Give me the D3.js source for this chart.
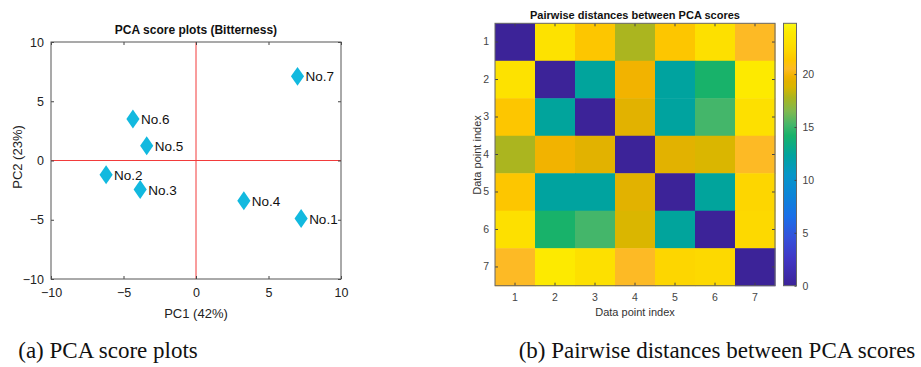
<!DOCTYPE html>
<html>
<head>
<meta charset="utf-8">
<script src="https://cdn.jsdelivr.net/npm/d3@7"></script>
<style>
  body { margin: 0; background: #fff; }
  svg { display: block; font-family: Arial, "Liberation Sans", sans-serif; }
</style>
</head>
<body>
<svg id="fig" width="921" height="367"></svg>
<script>
// ---- data (a) PCA scores ----
const sampleNames = ["No.1", "No.2", "No.3", "No.4", "No.5", "No.6", "No.7"];
const pc1Scores = [7.25, -6.2, -3.85, 3.3, -3.4, -4.35, 7.0];
const pc2Scores = [-4.9, -1.2, -2.45, -3.4, 1.25, 3.5, 7.1];
const scoreTicks = [-10, -5, 0, 5, 10];

// ---- data (b) pairwise distances ----
const pointIndex = [1, 2, 3, 4, 5, 6, 7];
const distRow1 = [0, 23.2, 21.3, 17.8, 21.3, 23.0, 20.5];
const distRow2 = [23.2, 0, 12.4, 19.8, 12.3, 14.2, 24.0];
const distRow3 = [21.3, 12.4, 0, 19.3, 12.3, 15.2, 23.0];
const distRow4 = [17.8, 19.8, 19.3, 0, 19.3, 18.8, 20.5];
const distRow5 = [21.3, 12.3, 12.3, 19.3, 0, 12.4, 22.2];
const distRow6 = [23.0, 14.2, 15.2, 18.8, 12.4, 0, 22.4];
const distRow7 = [20.5, 24.0, 23.0, 20.5, 22.2, 22.4, 0];
const distances = [distRow1, distRow2, distRow3, distRow4, distRow5, distRow6, distRow7];
const colorbarTicks = [0, 5, 10, 15, 20];

const svg = d3.select("#fig");

// ================= (a) score plot =================
let xScale = d3.scaleLinear().domain([-10, 10]).range([51, 341]);
let yScale = d3.scaleLinear().domain([-10, 10]).range([279, 42]);

const left = svg.append("g");

// zero lines
left.append("line")
  .attr("x1", xScale(0)).attr("x2", xScale(0))
  .attr("y1", yScale(10)).attr("y2", yScale(-10))
  .attr("stroke", "#f23b3b").attr("stroke-width", 1);
left.append("line")
  .attr("x1", xScale(-10)).attr("x2", xScale(10))
  .attr("y1", yScale(0)).attr("y2", yScale(0))
  .attr("stroke", "#f23b3b").attr("stroke-width", 1);

function styleAxis(g, size, color) {
  g.select(".domain").remove();
  g.selectAll("line").attr("stroke", "#444");
  g.selectAll("text").style("font-size", size + "px").attr("fill", color);
}

left.append("g")
  .attr("transform", "translate(0," + yScale(-10) + ")")
  .call(d3.axisBottom(xScale).tickValues(scoreTicks).tickSize(-3).tickPadding(9).tickSizeOuter(0))
  .call(g => styleAxis(g, 12.5, "#222"));
left.append("g")
  .attr("transform", "translate(0," + yScale(10) + ")")
  .call(d3.axisTop(xScale).tickValues(scoreTicks).tickSize(-3).tickFormat("").tickSizeOuter(0))
  .call(g => styleAxis(g, 12.5, "#222"));
left.append("g")
  .attr("transform", "translate(" + xScale(-10) + ",0)")
  .call(d3.axisLeft(yScale).tickValues(scoreTicks).tickSize(-3).tickPadding(7).tickSizeOuter(0))
  .call(g => styleAxis(g, 12.5, "#222"));
left.append("g")
  .attr("transform", "translate(" + xScale(10) + ",0)")
  .call(d3.axisRight(yScale).tickValues(scoreTicks).tickSize(-3).tickFormat("").tickSizeOuter(0))
  .call(g => styleAxis(g, 12.5, "#222"));

left.append("rect")
  .attr("x", xScale(-10)).attr("y", yScale(10))
  .attr("width", xScale(10) - xScale(-10)).attr("height", yScale(-10) - yScale(10))
  .attr("fill", "none").attr("stroke", "#555").attr("stroke-width", 1);

// diamonds
const diamond = d3.symbol().type(d3.symbolDiamond).size(104);
left.selectAll(".score")
  .data(sampleNames)
  .join("path")
  .attr("class", "score")
  .attr("d", diamond)
  .attr("transform", (d, i) => "translate(" + xScale(pc1Scores[i]) + "," + yScale(pc2Scores[i]) + ") scale(1.2,1)")
  .attr("fill", "#12b9df");

left.selectAll(".score-label")
  .data(sampleNames)
  .join("text")
  .attr("class", "score-label")
  .attr("x", (d, i) => xScale(pc1Scores[i]) + 8)
  .attr("y", (d, i) => yScale(pc2Scores[i]) + 5)
  .style("font-size", "13.5px")
  .attr("fill", "#111")
  .text(d => d);

left.append("text")
  .attr("x", 196).attr("y", 34)
  .attr("text-anchor", "middle")
  .style("font-size", "12px").style("font-weight", "bold")
  .attr("fill", "#111")
  .text("PCA score plots (Bitterness)");

left.append("text")
  .attr("x", 196).attr("y", 318)
  .attr("text-anchor", "middle")
  .style("font-size", "13px").attr("fill", "#222")
  .text("PC1  (42%)");

left.append("text")
  .attr("transform", "translate(22,157) rotate(-90)")
  .attr("text-anchor", "middle")
  .style("font-size", "13px").attr("fill", "#222")
  .text("PC2  (23%)");

// ================= (b) distance heatmap =================
let cellX = d3.scaleBand().domain(pointIndex).range([495, 775]);
let cellY = d3.scaleBand().domain(pointIndex).range([23.3, 285.7]);

// parula-like colormap
const colorDomain = [0, 2.5, 4.5, 6.5, 8.5, 10.5, 12.3, 14.2, 15.2, 16.5, 17.8, 18.8, 19.3, 19.8, 20.5, 21.3, 22.2, 23.0, 24.0, 24.8];
const colorRange = ["#3c2398", "#4136c4", "#3550da", "#1a6ee8", "#0c84d8", "#0696c8", "#00a39f", "#18b26a", "#44b66a",
  "#80b950", "#abb51f", "#dab600", "#e2b200", "#f2b300", "#fdba25", "#fdc600", "#fdd600", "#fde000", "#fdea00", "#f9f714"];
let colorScale = d3.scaleLinear().domain(colorDomain).range(colorRange);

const right = svg.append("g");

distances.forEach((row, i) => {
  right.selectAll(".cell-r" + i)
    .data(row)
    .join("rect")
    .attr("class", "cell-r" + i)
    .attr("x", (d, j) => cellX(pointIndex[j]))
    .attr("y", cellY(pointIndex[i]))
    .attr("width", cellX.bandwidth() + 0.5)
    .attr("height", cellY.bandwidth() + 0.5)
    .attr("fill", d => colorScale(d));
});

right.append("g")
  .attr("transform", "translate(0,285.7)")
  .call(d3.axisBottom(cellX).tickSize(-3).tickPadding(8).tickSizeOuter(0))
  .call(g => styleAxis(g, 10.5, "#444"));
right.append("g")
  .attr("transform", "translate(0,23.3)")
  .call(d3.axisTop(cellX).tickSize(-3).tickFormat("").tickSizeOuter(0))
  .call(g => styleAxis(g, 10.5, "#444"));
right.append("g")
  .attr("transform", "translate(495,0)")
  .call(d3.axisLeft(cellY).tickSize(-3).tickPadding(6).tickSizeOuter(0))
  .call(g => styleAxis(g, 10.5, "#444"));
right.append("g")
  .attr("transform", "translate(775,0)")
  .call(d3.axisRight(cellY).tickSize(-3).tickFormat("").tickSizeOuter(0))
  .call(g => styleAxis(g, 10.5, "#444"));

right.append("rect")
  .attr("x", 495).attr("y", 23.3).attr("width", 280).attr("height", 262.4)
  .attr("fill", "none").attr("stroke", "#666").attr("stroke-width", 1);

right.append("text")
  .attr("x", 635).attr("y", 19)
  .attr("text-anchor", "middle")
  .style("font-size", "11px").style("font-weight", "bold")
  .attr("fill", "#111")
  .text("Pairwise distances between PCA scores");

right.append("text")
  .attr("x", 635).attr("y", 316)
  .attr("text-anchor", "middle")
  .style("font-size", "11px").attr("fill", "#333")
  .text("Data point index");

right.append("text")
  .attr("transform", "translate(481,155) rotate(-90)")
  .attr("text-anchor", "middle")
  .style("font-size", "11px").attr("fill", "#333")
  .text("Data point index");

// colorbar
let barScale = d3.scaleLinear().domain([0, 24.8]).range([285.7, 23.3]);
const grad = svg.append("defs").append("linearGradient")
  .attr("id", "parula").attr("x1", 0).attr("y1", 1).attr("x2", 0).attr("y2", 0);
grad.selectAll("stop")
  .data(colorDomain)
  .join("stop")
  .attr("offset", d => d / 24.8)
  .attr("stop-color", d => colorScale(d));

right.append("rect")
  .attr("x", 783.5).attr("y", barScale(24.8))
  .attr("width", 13).attr("height", barScale(0) - barScale(24.8))
  .attr("fill", "url(#parula)").attr("stroke", "#666").attr("stroke-width", 1);

right.append("g")
  .attr("transform", "translate(796.5,0)")
  .call(d3.axisRight(barScale).tickValues(colorbarTicks).tickSize(-2).tickPadding(6).tickSizeOuter(0))
  .call(g => styleAxis(g, 10.5, "#444"));

// captions
svg.append("text")
  .attr("x", 108).attr("y", 358)
  .attr("text-anchor", "middle")
  .style("font-family", "'Liberation Serif', 'Times New Roman', serif")
  .style("font-size", "23px").attr("fill", "#111")
  .text("(a) PCA score plots");

svg.append("text")
  .attr("x", 717).attr("y", 358)
  .attr("text-anchor", "middle")
  .style("font-family", "'Liberation Serif', 'Times New Roman', serif")
  .style("font-size", "23px").attr("fill", "#111")
  .text("(b) Pairwise distances between PCA scores");
</script>
</body>
</html>
